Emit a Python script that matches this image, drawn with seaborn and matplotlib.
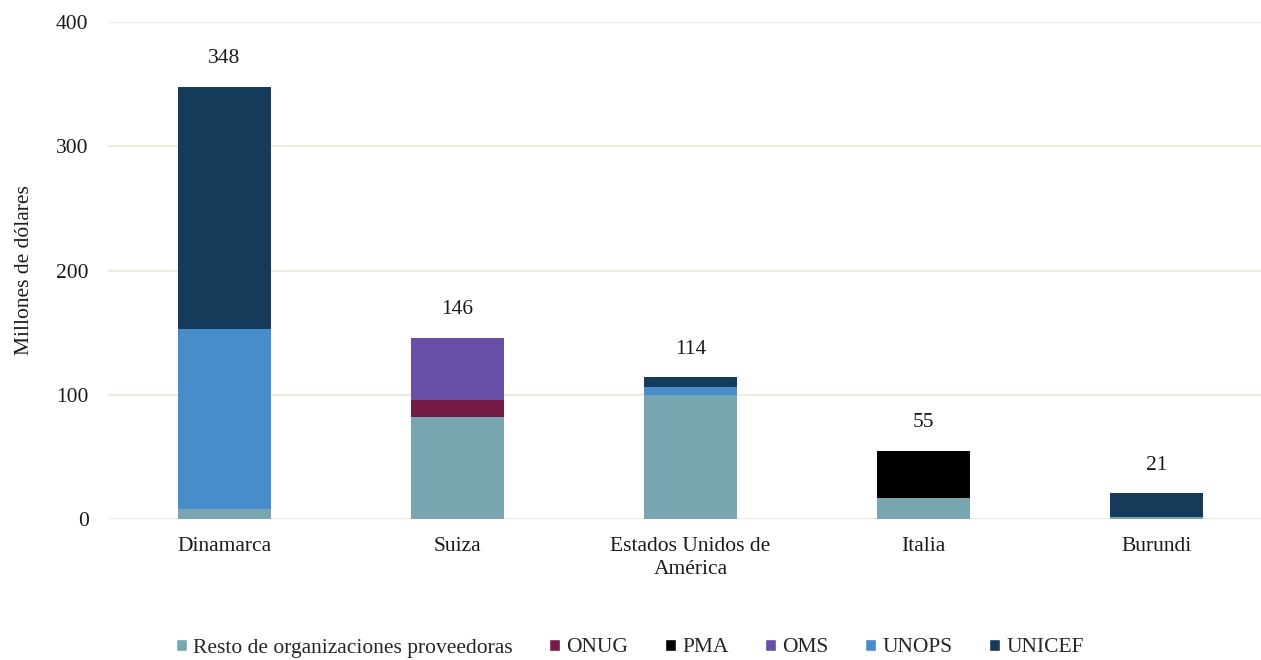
import pandas as pd
import numpy as np
import matplotlib.pyplot as plt
import seaborn as sns
from matplotlib.patches import Patch

sns.set_theme(style="white")
plt.rcParams['font.family'] = ['Liberation Serif', 'DejaVu Serif']

paises = ['Dinamarca', 'Suiza', 'Estados Unidos de\nAmérica', 'Italia', 'Burundi']
series = ['Resto de organizaciones proveedoras', 'ONUG', 'PMA', 'OMS', 'UNOPS', 'UNICEF']
resto = [8, 82, 100, 17, 2]
onug = [0, 14, 0, 0, 0]
pma = [0, 0, 0, 38, 0]
oms = [0, 49.5, 0, 0, 0]
unops = [145, 0.5, 6, 0, 0]
unicef = [195, 0, 8, 0, 19]
totales = [348, 146, 114, 55, 21]
colores = ['#77a5b0', '#741b47', '#000000', '#674ea7', '#488dcb', '#163a5a']

valores = [resto, onug, pma, oms, unops, unicef]
FS = 15.5
TXT = '#1a1a1a'

fig = plt.figure(figsize=(12.61, 6.6), dpi=100)
ax = fig.add_axes([108 / 1261, 141 / 660, 1153 / 1261, 497 / 660])

base = np.zeros(len(paises))
for nombre, vals, col in zip(series, valores, colores):
    df = pd.DataFrame({'pais': paises, 'valor': vals})
    sns.barplot(data=df, x='pais', y='valor', color=col, width=0.4,
                bottom=base, ax=ax, saturation=1, edgecolor='none', linewidth=0)
    base = base + np.array(vals)

for i, t in enumerate(totales):
    ax.annotate(str(t), (i, t), xytext=(0, 20), textcoords='offset points',
                ha='center', va='center', fontsize=FS, color=TXT)

ax.set_xlim(-0.5, -0.5 + 1153 / 233)
ax.set_ylim(0, 400)
ax.set_yticks([0, 100, 200, 300, 400])
ax.grid(axis='y', color='#ecebdd', linewidth=1.5)
ax.set_axisbelow(True)
sns.despine(ax=ax, left=True, bottom=True, top=True, right=True)
ax.tick_params(axis='both', length=0, labelsize=FS, colors=TXT)
ax.tick_params(axis='y', pad=14)
ax.tick_params(axis='x', pad=13)
for lbl in ax.get_xticklabels():
    lbl.set_linespacing(1.3)
ax.set_xlabel('')
ax.set_ylabel('Millones de dólares', fontsize=FS, color=TXT, labelpad=16)

handles = [Patch(facecolor=c, label=s) for s, c in zip(series, colores)]
fig.legend(handles=handles, loc='center', bbox_to_anchor=(630 / 1261, 1 - 648 / 660),
           ncol=6, frameon=False, fontsize=FS, handlelength=0.5, handleheight=0.5,
           handletextpad=0.3, columnspacing=1.7)

plt.savefig('out.png', dpi=100)
plt.close()
